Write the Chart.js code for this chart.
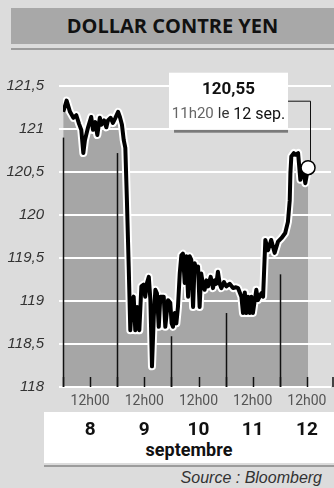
<!DOCTYPE html>
<html lang="fr">
<head>
<meta charset="utf-8">
<title>Dollar contre yen</title>
<script src="https://cdn.jsdelivr.net/npm/chart.js@4.4.1/dist/chart.umd.min.js"></script>
<style>
  html, body { margin: 0; padding: 0; }
  body { width: 334px; height: 488px; background: #dcdcdc; position: relative; overflow: hidden; font-family: Roboto, sans-serif; }
  #titre { position: absolute; left: 11px; top: 8px; width: 323px; height: 36px; background: #a8a8a8; color: #111; font: bold 20px "Open Sans", sans-serif; text-align: center; line-height: 36px; }
  #titreLigne { position: absolute; left: 11px; top: 48px; width: 323px; height: 2px; background: #9c9c9c; }
  #jours { position: absolute; left: 44px; top: 412px; width: 290px; height: 51px; background: #fff; }
  #mois { position: absolute; left: 44px; top: 439px; width: 290px; text-align: center; font: bold 18px Roboto, sans-serif; color: #111; }
  #joursLigne { position: absolute; left: 44px; top: 465px; width: 290px; height: 2px; background: #9c9c9c; }
  #source { position: absolute; right: 12px; top: 469px; font: italic 16px "Liberation Sans", sans-serif; color: #333; }
  #wrap { position: absolute; left: 0; top: 0; width: 334px; height: 488px; }
</style>
</head>
<body>
<div id="titre">DOLLAR CONTRE YEN</div>
<div id="titreLigne"></div>
<div id="jours"></div>
<div id="mois">septembre</div>
<div id="joursLigne"></div>
<div id="source">Source : Bloomberg</div>
<div id="wrap"><canvas id="chartYen"></canvas></div>

<script>
// heures depuis le 8 sept. 00h00
const hours = [0.1, 1.6, 3.1, 4.6, 5.9, 7.1, 8.1, 9.0, 9.7, 11.1,
    12.5, 13.3, 14.3, 15.2, 16.3, 17.0, 18.2, 19.2, 19.9, 21.1,
    22.1, 23.2, 24.4, 25.2, 26.1, 26.9, 27.6, 28.3, 29.1, 29.8,
    30.6, 31.3, 32.0, 32.8, 33.8, 34.7, 35.7, 36.4, 37.2, 38.0,
    38.7, 39.4, 40.2, 40.9, 41.6, 42.4, 43.1, 44.6, 45.3, 46.5,
    47.5, 48.1, 48.7, 49.5, 50.2, 50.9, 51.7, 52.4, 53.1, 53.9,
    54.6, 55.4, 56.1, 56.8, 57.6, 58.3, 59.0, 59.8, 60.5, 61.2,
    62.0, 62.7, 63.5, 64.2, 65.4, 66.4, 67.2, 67.9, 68.6, 69.4,
    70.1, 71.3, 72.3, 73.8, 75.3, 76.6, 77.5, 79.0, 79.7, 80.5,
    81.2, 81.9, 82.7, 83.4, 84.1, 85.6, 86.3, 87.8, 88.6, 89.6,
    90.8, 92.2, 93.7, 95.2, 96.7, 98.4, 99.6, 100.4, 100.7, 101.1,
    102.2, 102.9, 104.1, 105.1, 105.8, 106.6, 107.3, 108.5];

// cours du dollar en yens
const rates = [121.2, 121.33, 121.2, 121.13, 121.16, 121.06, 120.99, 120.72, 120.87, 121.02,
    121.14, 120.99, 121.08, 120.93, 121.13, 121.05, 121.1, 121.02, 121.1, 121.13,
    121.07, 121.13, 121.2, 121.14, 121.05, 120.87, 120.78, 120.17, 119.4, 118.66,
    119.01, 119.05, 118.66, 118.93, 118.66, 119.17, 119.19, 119.05, 119.21, 119.28,
    119.01, 118.24, 118.82, 119.13, 119.09, 118.7, 119.05, 119.05, 118.7, 119.01,
    118.98, 118.74, 118.7, 118.86, 118.74, 118.93, 119.32, 119.53, 119.55, 119.21,
    119.52, 119.05, 119.52, 119.48, 118.93, 119.44, 119.36, 119.4, 118.93, 119.32,
    119.19, 119.13, 119.24, 119.17, 119.28, 119.15, 119.24, 119.2, 119.34, 119.2,
    119.15, 119.22, 119.17, 119.2, 119.15, 119.16, 119.15, 119.05, 118.86, 119.1,
    118.86, 119.05, 118.86, 119.05, 118.86, 119.13, 119.01, 119.09, 119.05, 119.71,
    119.59, 119.71, 119.56, 119.69, 119.73, 119.79, 119.92, 120.17, 120.49, 120.68,
    120.72, 120.7, 120.72, 120.41, 120.56, 120.49, 120.37, 120.55];

// jours (position du 12h00 de chaque jour)
const dayLabels = ['8', '9', '10', '11', '12'];
const dayNoon = [12, 36, 60, 84, 108];
// debut de chaque jour et hauteur du trait vertical
const dayStarts = [0, 24, 48, 72, 96];
const dayLineTops = [120.9, 120.72, 118.59, 118.86, 119.31];

const lastLabel = ['11h20', 'le', '12 sep.'];

document.addEventListener("DOMContentLoaded", function () {
    const points = hours.map((h, i) => ({ x: h, y: rates[i] }));
    const lastIndex = points.length - 1;

    // grille blanche, separateurs et graduations, dessines sur l'aire grise
    const decorPlugin = {
        id: 'decor',
        afterDatasetDraw(chart, args) {
            if (args.index !== 2) return;
            const { ctx, chartArea } = chart;
            const x = chart.scales.x, y = chart.scales.y;
            ctx.save();
            ctx.strokeStyle = '#fff';
            ctx.lineWidth = 2;
            y.ticks.forEach(t => {
                const py = Math.round(y.getPixelForValue(t.value));
                ctx.beginPath();
                ctx.moveTo(chartArea.left - 4, py);
                ctx.lineTo(chartArea.right - 3, py);
                ctx.stroke();
            });
            ctx.strokeStyle = '#111';
            ctx.lineWidth = 1.5;
            dayStarts.forEach((h, i) => {
                const px = Math.round(x.getPixelForValue(h)) + 0.5;
                ctx.beginPath();
                ctx.moveTo(px, chartArea.bottom);
                ctx.lineTo(px, y.getPixelForValue(dayLineTops[i]));
                ctx.stroke();
            });
            for (let h = 0; h <= 120; h += 12) {
                const px = Math.min(Math.round(x.getPixelForValue(h)) + 0.5, chartArea.right - 1);
                ctx.beginPath();
                ctx.moveTo(px, chartArea.bottom);
                ctx.lineTo(px, chartArea.bottom - 10);
                ctx.stroke();
            }
            ctx.restore();
        },
        afterDatasetsDraw(chart) {
            const { ctx } = chart;
            const x = chart.scales.x;
            ctx.save();
            // numeros des jours
            ctx.fillStyle = '#111';
            ctx.font = 'bold 19px Roboto, sans-serif';
            ctx.textAlign = 'center';
            ctx.textBaseline = 'middle';
            dayLabels.forEach((d, i) => {
                ctx.fillText(d, x.getPixelForValue(dayNoon[i]), 430);
            });

            // etiquette du dernier cours
            const last = chart.getDatasetMeta(0).data[lastIndex];
            const px = last.x, py = last.y;
            const bw = 119, bh = 57;
            const bx = px - 20 - bw, by = py - 95;
            ctx.fillStyle = '#7a7a7a';
            ctx.fillRect(bx + 5, by + bh, bw - 5, 3);
            ctx.fillStyle = '#fff';
            ctx.fillRect(bx, by, bw, bh);
            ctx.strokeStyle = '#111';
            ctx.lineWidth = 1;
            ctx.beginPath();
            ctx.moveTo(bx + bw, by + 28.5);
            ctx.lineTo(Math.round(px) + 2.5, by + 28.5);
            ctx.lineTo(Math.round(px) + 2.5, py - 7);
            ctx.stroke();

            ctx.fillStyle = '#111';
            ctx.font = 'bold 17px Roboto, sans-serif';
            ctx.fillText(rates[lastIndex].toFixed(2).replace('.', ','), bx + bw / 2, by + 17);

            const fonts = ['15px Roboto, sans-serif', '15px Roboto, sans-serif', '16px Roboto, sans-serif'];
            const colors = ['#666', '#333', '#111'];
            let widths = lastLabel.map((s, i) => { ctx.font = fonts[i]; return ctx.measureText(s).width; });
            const gap = 4;
            const total = widths.reduce((a, b) => a + b, 0) + gap * (widths.length - 1);
            let cx = bx + bw / 2 - total / 2;
            ctx.textAlign = 'left';
            lastLabel.forEach((s, i) => {
                ctx.font = fonts[i];
                ctx.fillStyle = colors[i];
                ctx.fillText(s, cx, by + 42);
                cx += widths[i] + gap;
            });
            ctx.restore();
        }
    };

    const ctxYen = document.getElementById('chartYen').getContext('2d');
    new Chart(ctxYen, {
        type: 'line',
        data: {
            datasets: [
                {
                    // trait noir
                    data: points,
                    borderColor: '#000',
                    borderWidth: 4,
                    borderJoinStyle: 'round',
                    tension: 0,
                    fill: false,
                    pointRadius: c => c.dataIndex === lastIndex ? 7 : 0,
                    pointBackgroundColor: '#fff',
                    pointBorderColor: '#000',
                    pointBorderWidth: 1.5
                },
                {
                    // liseré blanc
                    data: points,
                    borderColor: '#fff',
                    borderWidth: 8,
                    borderJoinStyle: 'round',
                    tension: 0,
                    fill: false,
                    pointRadius: 0
                },
                {
                    // aire grise
                    data: points,
                    borderWidth: 0,
                    borderColor: 'rgba(0,0,0,0)',
                    backgroundColor: '#a6a6a6',
                    tension: 0,
                    fill: 'start',
                    pointRadius: 0
                }
            ]
        },
        options: {
            responsive: true,
            maintainAspectRatio: false,
            animation: false,
            layout: { autoPadding: false, padding: { top: 86, left: 0, right: 0, bottom: 0 } },
            plugins: {
                legend: { display: false },
                tooltip: { enabled: false }
            },
            scales: {
                x: {
                    type: 'linear',
                    min: 0,
                    max: 120,
                    afterFit: s => { s.height = 101; s.paddingLeft = 0; s.paddingRight = 0; },
                    grid: { display: false, drawTicks: false },
                    border: { display: false },
                    ticks: {
                        stepSize: 12,
                        autoSkip: false,
                        maxRotation: 0,
                        padding: 6,
                        color: '#555',
                        font: { family: 'Roboto', size: 14 },
                        callback: v => (v % 24 === 12 ? '12h00' : '')
                    }
                },
                y: {
                    min: 118,
                    max: 121.5,
                    afterFit: s => { s.width = 63; },
                    grid: { display: false, drawTicks: false },
                    border: { display: false },
                    ticks: {
                        stepSize: 0.5,
                        padding: 19,
                        color: '#333',
                        font: { family: 'Liberation Sans', size: 15, style: 'italic' },
                        callback: v => String(v).replace('.', ',')
                    }
                }
            }
        },
        plugins: [decorPlugin]
    });
});
</script>
</body>
</html>
